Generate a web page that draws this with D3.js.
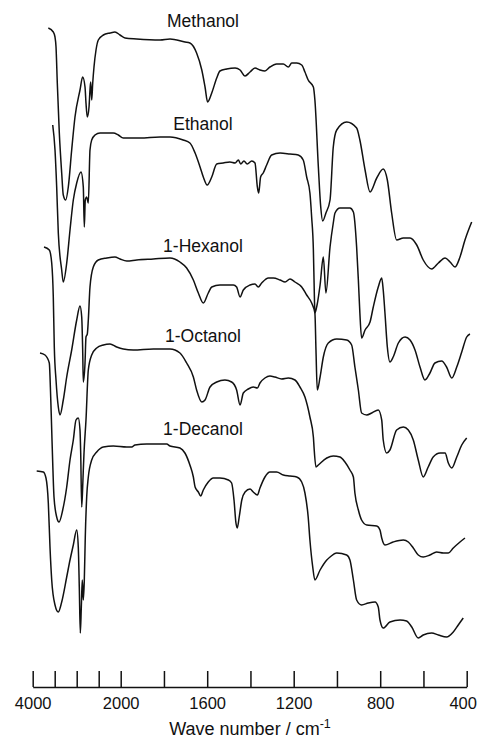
<!DOCTYPE html>
<html lang="en">
<head>
<meta charset="utf-8">
<title>IR spectra of alcohols</title>
<script src="https://d3js.org/d3.v7.min.js"></script>
<style>
body { margin: 0; background: #fff; }
svg text { font-family: "Liberation Sans", Arial, Helvetica, sans-serif; fill: #111; }
.spectrum { fill: none; stroke: #111; stroke-width: 1.5; stroke-linejoin: round; }
.axis path, .axis line { stroke: #111; stroke-width: 1.5; }
</style>
</head>
<body>
<script>
// tick marks and labelled ticks (wave number, cm-1)
var tickValues = [4000, 3500, 3000, 2500, 2000, 1800, 1600, 1400, 1200, 1000, 800, 600, 400];
var tickLabels = [4000, 2000, 1600, 1200, 800, 400];

var names = ["Methanol", "Ethanol", "1-Hexanol", "1-Octanol", "1-Decanol"];

// [wave number, transmittance (arbitrary units, stacked)]
var methanol = [[3645,662],[3532,658],[3493,653],[3470,643],[3441,607],[3395,557],[3341,517],[3305,495],[3250,490],[3191,503],[3114,540],[3039,573],[2925,600],[2864,613],[2811,603],[2789,587],[2759,573],[2720,583],[2698,600],[2682,608],[2659,590],[2636,607],[2607,623],[2561,640],[2509,650],[2395,655],[2243,657],[2130,658],[2016,655],[1980,652],[1926,651],[1818,650],[1772,651],[1703,648],[1680,647],[1649,637],[1625,620],[1610,603],[1598,588],[1579,597],[1556,612],[1541,619],[1510,621],[1471,622],[1448,620],[1425,614],[1402,618],[1379,622],[1356,620],[1333,619],[1310,623],[1279,626],[1248,626],[1225,623],[1209,627],[1186,627],[1163,625],[1148,618],[1133,610],[1109,603],[1102,590],[1086,523],[1075,483],[1066,469],[1051,477],[1032,490],[1017,543],[1001,560],[955,568],[909,562],[894,550],[870,520],[847,498],[816,512],[786,521],[767,510],[747,477],[724,450],[693,452],[662,452],[631,445],[601,430],[562,421],[531,427],[500,432],[477,428],[454,423],[431,433],[408,450],[377,468]];

var ethanol = [[3545,565],[3493,540],[3455,503],[3418,457],[3341,420],[3305,408],[3227,427],[3152,460],[3077,490],[3000,507],[2902,518],[2850,503],[2827,463],[2805,490],[2773,493],[2736,487],[2698,540],[2659,550],[2584,555],[2470,557],[2318,557],[2168,557],[2055,555],[1988,552],[1957,552],[1911,552],[1818,553],[1772,553],[1711,550],[1680,547],[1656,537],[1633,523],[1618,513],[1600,505],[1579,513],[1556,526],[1526,527],[1495,528],[1471,527],[1456,530],[1445,526],[1430,529],[1415,526],[1394,529],[1379,527],[1368,503],[1362,497],[1353,513],[1341,517],[1325,525],[1302,535],[1263,537],[1217,536],[1179,535],[1156,530],[1140,513],[1125,497],[1117,473],[1109,440],[1105,400],[1102,377],[1092,385],[1078,405],[1063,433],[1051,397],[1032,443],[1017,467],[1009,477],[986,482],[955,482],[940,482],[924,478],[909,443],[901,410],[894,377],[886,352],[870,360],[847,368],[832,383],[809,403],[793,412],[786,400],[778,377],[767,343],[755,328],[740,333],[716,347],[685,353],[662,350],[639,340],[616,323],[593,310],[570,317],[547,327],[516,329],[493,323],[469,312],[446,323],[423,338],[400,353],[385,356]];

var hexanol = [[3743,443],[3623,440],[3568,427],[3532,393],[3509,343],[3470,310],[3418,283],[3380,275],[3305,290],[3227,313],[3114,340],[3000,370],[2925,384],[2886,373],[2864,340],[2850,308],[2811,327],[2789,353],[2759,356],[2736,370],[2698,403],[2623,423],[2509,430],[2318,432],[2130,433],[2016,431],[1972,429],[1926,430],[1849,431],[1772,432],[1726,428],[1695,422],[1664,410],[1641,397],[1618,387],[1595,397],[1579,403],[1541,405],[1479,405],[1464,403],[1448,393],[1433,400],[1402,405],[1379,406],[1364,403],[1348,407],[1317,412],[1294,412],[1263,410],[1240,408],[1217,411],[1194,408],[1163,403],[1140,395],[1117,387],[1102,377],[1097,340],[1091,300],[1078,313],[1063,333],[1040,347],[1001,351],[955,350],[932,345],[917,323],[901,300],[886,277],[862,275],[839,277],[809,280],[793,270],[786,250],[770,237],[755,240],[724,260],[693,263],[670,260],[647,250],[624,230],[601,213],[578,223],[555,233],[523,237],[500,237],[485,227],[469,222],[446,233],[423,245],[400,252]];

var octanol = [[3834,337],[3720,335],[3623,327],[3591,293],[3568,260],[3545,227],[3516,193],[3455,173],[3402,168],[3318,180],[3227,203],[3152,230],[3077,250],[3016,270],[2964,272],[2925,260],[2909,237],[2886,183],[2864,203],[2850,220],[2834,237],[2789,270],[2736,320],[2659,335],[2545,342],[2395,345],[2243,346],[2091,343],[1988,341],[1942,340],[1849,341],[1772,341],[1726,337],[1695,327],[1664,313],[1649,300],[1625,288],[1610,290],[1587,303],[1556,308],[1518,310],[1487,308],[1464,300],[1448,285],[1433,297],[1410,301],[1387,303],[1368,302],[1356,307],[1333,312],[1310,314],[1287,313],[1256,311],[1225,312],[1194,310],[1171,303],[1148,293],[1125,273],[1109,253],[1106,243],[1097,223],[1086,225],[1047,232],[1017,234],[986,233],[963,228],[940,220],[924,213],[917,197],[901,180],[886,170],[862,165],[816,164],[801,160],[793,152],[778,145],[740,148],[693,150],[670,148],[647,142],[624,135],[601,133],[570,135],[539,138],[508,137],[485,137],[462,142],[431,148],[408,152]];

var decanol = [[3909,219],[3759,218],[3698,212],[3645,187],[3607,143],[3568,110],[3493,85],[3418,78],[3341,88],[3227,113],[3152,130],[3077,145],[3000,160],[2964,143],[2941,103],[2918,57],[2895,83],[2873,110],[2850,90],[2827,110],[2805,153],[2773,193],[2736,213],[2659,230],[2545,238],[2395,243],[2168,244],[1972,243],[1949,243],[1934,245],[1880,246],[1787,246],[1772,244],[1726,242],[1703,237],[1680,225],[1664,213],[1656,203],[1641,198],[1630,194],[1618,200],[1595,208],[1572,212],[1541,212],[1502,210],[1487,207],[1476,190],[1467,167],[1461,162],[1452,173],[1440,190],[1425,198],[1402,201],[1387,198],[1368,195],[1356,202],[1333,213],[1310,218],[1279,218],[1248,215],[1217,214],[1186,213],[1163,208],[1148,197],[1133,173],[1125,150],[1112,123],[1102,110],[1078,120],[1047,130],[1032,133],[1001,137],[955,135],[940,130],[924,110],[909,90],[886,85],[855,87],[824,88],[809,83],[801,70],[786,62],[755,68],[708,70],[678,69],[654,63],[624,52],[601,55],[562,57],[531,55],[493,53],[462,58],[439,65],[416,72]];

var spectra = [methanol, ethanol, hexanol, octanol, decanol];

var width = 478, height = 738;
var axisY = 687;
var labelX = 203;
var labelY = [27, 130, 252, 342, 435];

var svg = d3.select("body").append("svg")
    .attr("width", width)
    .attr("height", height);

// compressed scale above 2000 cm-1
var x = d3.scaleLinear()
    .domain([4000, 2000, 400])
    .range([32.7, 120.7, 466.7]);

var y = d3.scaleLinear()
    .domain([0, 680])
    .range([690, 10]);

var line = d3.line()
    .x(function(d) { return x(d[0]); })
    .y(function(d) { return y(d[1]); })
    .curve(d3.curveMonotoneX);

svg.selectAll(".spectrum")
    .data(spectra)
    .enter()
    .append("path")
    .attr("class", "spectrum")
    .attr("d", line);

svg.selectAll(".name")
    .data(names)
    .enter()
    .append("text")
    .attr("class", "name")
    .attr("x", labelX)
    .attr("y", function(d, i) { return labelY[i]; })
    .attr("text-anchor", "middle")
    .style("font-size", "17.5px")
    .text(function(d) { return d; });

var axis = d3.axisBottom(x)
    .tickValues(tickValues)
    .tickSizeInner(-16)
    .tickSizeOuter(0)
    .tickPadding(10)
    .tickFormat(function(d) { return tickLabels.indexOf(d) >= 0 ? d : ""; });

var gx = svg.append("g")
    .attr("class", "axis")
    .attr("transform", "translate(0," + axisY + ")")
    .call(axis);

gx.selectAll("text")
    .style("font-size", "16.5px")
    .style("font-family", "'Liberation Sans', Arial, sans-serif")
    .attr("fill", "#111")
    .attr("dx", function(d) { return d === 400 ? -4 : 0; });

var title = svg.append("text")
    .attr("x", 250)
    .attr("y", 735)
    .attr("text-anchor", "middle")
    .style("font-size", "18px");
title.append("tspan").text("Wave number / cm");
title.append("tspan").attr("dy", -7).style("font-size", "12.5px").text("-1");
</script>
</body>
</html>
